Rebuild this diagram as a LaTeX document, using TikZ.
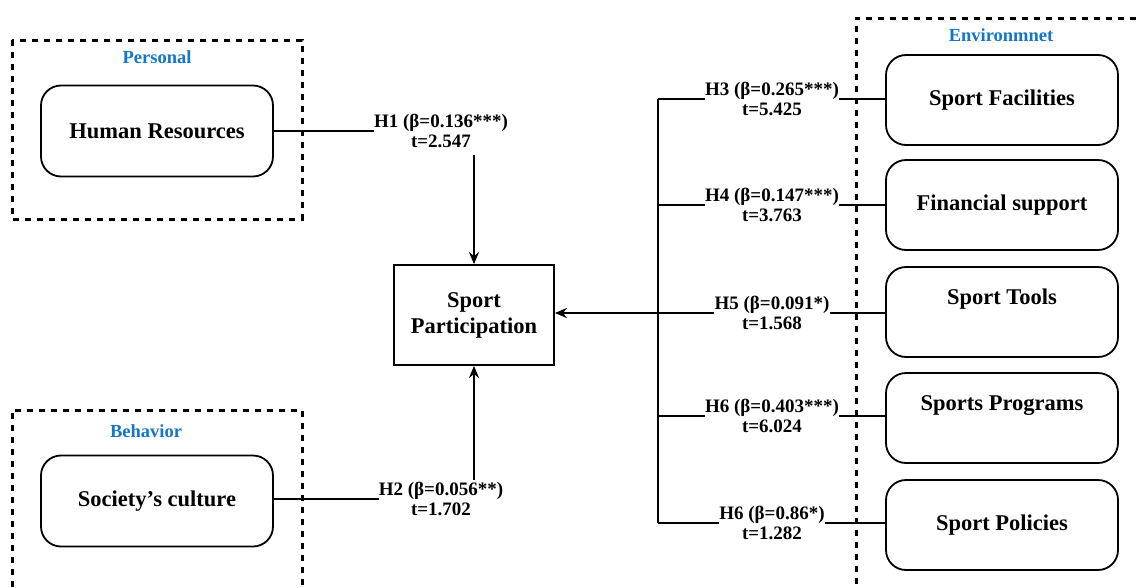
\documentclass[tikz,border=0pt]{standalone}
\usepackage{fontspec}
\setmainfont{Liberation Serif}
\usetikzlibrary{arrows.meta}
\definecolor{grpblue}{RGB}{20,118,200}
\tikzset{
  rbox/.style={draw, line width=1.8pt, rounded corners=20pt, minimum width=232pt,
    minimum height=91pt, inner sep=0pt, align=center,
    font=\fontsize{22.5}{26}\selectfont\bfseries},
  sqbox/.style={draw, line width=1.8pt, minimum width=160pt, minimum height=100pt,
    inner sep=0pt, align=center, font=\fontsize{22.5}{26}\selectfont\bfseries},
  hyp/.style={inner sep=0pt, align=center, font=\fontsize{19}{20}\selectfont\bfseries},
  grp/.style={inner sep=0pt, text=grpblue, font=\fontsize{18.5}{20}\selectfont\bfseries},
  grpline/.style={line width=3pt, dash pattern=on 6pt off 6pt},
  conn/.style={line width=2pt},
  arr/.style={line width=2pt, -{Stealth[length=12pt,width=10pt]}},
}
\begin{document}
\begin{tikzpicture}[x=1pt,y=-1pt]
\useasboundingbox (0,0) rectangle (1136,587);
% group frames
\draw[grpline] (12,40) rectangle (302,219);
\draw[grpline] (12,587) -- (12,410) -- (302,410) -- (302,587);
\draw[grpline] (1136,18) -- (856,18) -- (856,587);
\node[grp] (gpers) at (157,57) {Personal};
\node[grp] (gbeh) at (146,431) {Behavior};
\node[grp] (genv) at (1001,35) {Environmnet};
% left boxes
\node[rbox] (hr) at (157,131) {Human Resources};
\node[rbox] (sc) at (157,501) {Society’s culture};
% centre
\node[sqbox] (sp) at (474,315) {Sport\\Participation};
% right boxes
\node[rbox, minimum height=90pt] (fac) at (1002,100) {Sport Facilities};
\node[rbox, minimum height=90pt] (fin) at (1002,205) {Financial support};
\node[rbox, minimum height=90pt, text depth=30pt] (tool) at (1002,312) {Sport Tools};
\node[rbox, minimum height=90pt, text depth=30pt] (prog) at (1002,418) {Sports Programs};
\node[rbox, minimum height=90pt] (pol) at (1002,525) {Sport Policies};
% hypothesis labels
\node[hyp] (h1) at (441,131) {H1 (β=0.136***)\\t=2.547};
\node[hyp] (h2) at (441,499) {H2 (β=0.056**)\\t=1.702};
\node[hyp] (h3) at (772,99) {H3 (β=0.265***)\\t=5.425};
\node[hyp] (h4) at (772,205) {H4 (β=0.147***)\\t=3.763};
\node[hyp] (h5) at (772,313) {H5 (β=0.091*)\\t=1.568};
\node[hyp] (h6) at (772,416) {H6 (β=0.403***)\\t=6.024};
\node[hyp] (h7) at (772,523) {H6 (β=0.86*)\\t=1.282};
% connectors left
\draw[conn] (hr.east) -- (h1.west);
\draw[conn] (sc.east |- h2.west) -- (h2.west);
\coordinate (a1) at (474,155);
\coordinate (a2) at (474,480);
\draw[arr] (a1) -- (sp.north);
\draw[arr] (a2) -- (sp.south);
% trunk right
\coordinate (t3) at (658,99);
\coordinate (t4) at (658,205);
\coordinate (t6) at (658,416);
\coordinate (t7) at (658,523);
\draw[conn] (t3) -- (t7);
\draw[conn] (t3) -- (h3.west);
\draw[conn] (t4) -- (h4.west);
\draw[conn] (t6) -- (h6.west);
\draw[conn] (t7) -- (h7.west);
\draw[arr] (h5.west) -- (sp.east |- h5.west);
\draw[conn] (h3.east) -- (fac.west |- h3.east);
\draw[conn] (h4.east) -- (fin.west |- h4.east);
\draw[conn] (h5.east) -- (tool.west |- h5.east);
\draw[conn] (h6.east) -- (prog.west |- h6.east);
\draw[conn] (h7.east) -- (pol.west |- h7.east);
\end{tikzpicture}
\end{document}
